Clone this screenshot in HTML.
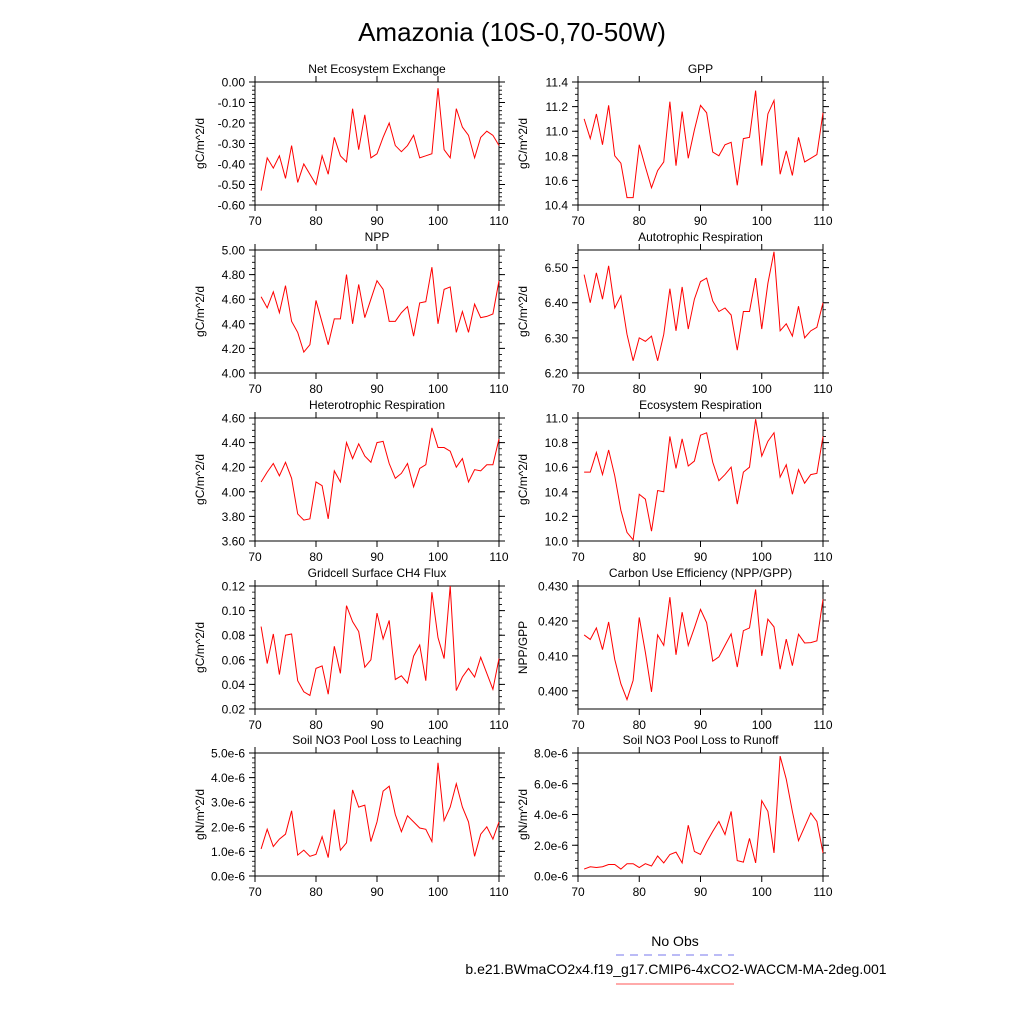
<!DOCTYPE html>
<html><head><meta charset="utf-8">
<style>
html,body{margin:0;padding:0;background:#fff;}
svg{display:block;font-family:"Liberation Sans",Arial,sans-serif;}
</style></head>
<body>
<svg id="chart" width="1024" height="1024" viewBox="0 0 1024 1024" xmlns="http://www.w3.org/2000/svg">
<rect width="1024" height="1024" fill="#fff"/>
<text x="512" y="41" text-anchor="middle" font-size="26" fill="#000">Amazonia (10S-0,70-50W)</text>
<g>
<text x="675" y="946" text-anchor="middle" font-size="14">No Obs</text>
<line x1="616" y1="955" x2="734" y2="955" stroke="#7777ee" stroke-width="1" stroke-dasharray="8,6"/>
<text x="676" y="974" text-anchor="middle" font-size="14">b.e21.BWmaCO2x4.f19_g17.CMIP6-4xCO2-WACCM-MA-2deg.001</text>
<line x1="616" y1="984" x2="734" y2="984" stroke="#ff5555" stroke-width="1"/>
</g>
<g id="panels"></g>
</svg>
<script>
const years = [];
for (let y = 71; y <= 110; y++) years.push(y);
const xTicks = [70, 80, 90, 100, 110];

const neeValues = [-0.53,-0.37,-0.42,-0.36,-0.47,-0.31,-0.49,-0.40,-0.45,-0.50,-0.36,-0.45,-0.27,-0.36,-0.39,-0.13,-0.33,-0.16,-0.37,-0.35,-0.27,-0.20,-0.31,-0.34,-0.31,-0.26,-0.37,-0.36,-0.35,-0.03,-0.33,-0.37,-0.13,-0.22,-0.26,-0.37,-0.27,-0.24,-0.26,-0.31];
const gppValues = [11.10,10.94,11.14,10.89,11.21,10.80,10.74,10.46,10.46,10.89,10.71,10.54,10.68,10.75,11.24,10.72,11.16,10.78,11.01,11.21,11.15,10.83,10.80,10.89,10.91,10.56,10.94,10.95,11.33,10.72,11.14,11.25,10.65,10.84,10.64,10.95,10.75,10.78,10.81,11.15];
const nppValues = [4.62,4.53,4.66,4.49,4.71,4.42,4.33,4.17,4.23,4.59,4.41,4.23,4.44,4.44,4.80,4.40,4.72,4.45,4.60,4.75,4.68,4.42,4.42,4.49,4.54,4.30,4.57,4.58,4.86,4.40,4.68,4.70,4.33,4.50,4.33,4.56,4.45,4.46,4.48,4.75];
const arValues = [6.48,6.40,6.485,6.41,6.505,6.385,6.42,6.31,6.235,6.30,6.29,6.305,6.235,6.31,6.44,6.32,6.445,6.325,6.41,6.46,6.47,6.405,6.375,6.385,6.365,6.265,6.375,6.375,6.47,6.325,6.455,6.545,6.32,6.34,6.305,6.39,6.30,6.32,6.33,6.40];
const hrValues = [4.08,4.16,4.23,4.13,4.24,4.11,3.82,3.77,3.78,4.08,4.05,3.78,4.17,4.08,4.40,4.27,4.39,4.29,4.24,4.40,4.41,4.23,4.11,4.15,4.23,4.04,4.19,4.22,4.52,4.36,4.36,4.33,4.20,4.27,4.08,4.18,4.17,4.22,4.22,4.43];
const erValues = [10.56,10.56,10.72,10.54,10.74,10.53,10.25,10.07,10.01,10.38,10.34,10.08,10.41,10.40,10.85,10.59,10.83,10.61,10.65,10.86,10.88,10.64,10.49,10.54,10.60,10.30,10.56,10.60,10.99,10.69,10.81,10.88,10.52,10.62,10.38,10.58,10.47,10.54,10.55,10.85];
const ch4Values = [0.087,0.057,0.081,0.048,0.080,0.081,0.043,0.034,0.031,0.053,0.055,0.032,0.071,0.049,0.104,0.091,0.083,0.054,0.060,0.098,0.077,0.092,0.044,0.047,0.041,0.063,0.072,0.043,0.115,0.078,0.061,0.120,0.035,0.046,0.053,0.046,0.062,0.049,0.036,0.061];
const cueValues = [0.416,0.4147,0.418,0.4118,0.4197,0.409,0.402,0.3975,0.403,0.421,0.411,0.3997,0.416,0.413,0.4268,0.4103,0.4225,0.413,0.418,0.4233,0.4195,0.4085,0.4097,0.413,0.4163,0.4068,0.4172,0.418,0.429,0.410,0.4205,0.4183,0.4062,0.4148,0.4072,0.4162,0.4137,0.4138,0.4143,0.4262];
const leachValues = [1.1e-6,1.9e-6,1.2e-6,1.5e-6,1.7e-6,2.65e-6,0.85e-6,1.05e-6,0.8e-6,0.88e-6,1.6e-6,0.75e-6,2.7e-6,1.05e-6,1.35e-6,3.5e-6,2.8e-6,2.88e-6,1.4e-6,2.2e-6,3.45e-6,3.65e-6,2.5e-6,1.8e-6,2.45e-6,2.2e-6,1.95e-6,1.9e-6,1.4e-6,4.6e-6,2.25e-6,2.8e-6,3.75e-6,2.8e-6,2.2e-6,0.8e-6,1.7e-6,2.0e-6,1.5e-6,2.2e-6];
const runoffValues = [0.45e-6,0.6e-6,0.55e-6,0.6e-6,0.75e-6,0.75e-6,0.45e-6,0.8e-6,0.8e-6,0.55e-6,0.8e-6,0.65e-6,1.3e-6,0.85e-6,1.4e-6,1.55e-6,0.85e-6,3.3e-6,1.6e-6,1.4e-6,2.2e-6,2.9e-6,3.55e-6,2.7e-6,4.2e-6,1.0e-6,0.9e-6,2.45e-6,0.85e-6,4.9e-6,4.2e-6,1.5e-6,7.8e-6,6.3e-6,4.2e-6,2.3e-6,3.2e-6,4.1e-6,3.55e-6,1.5e-6];

const neeTicks = [0,-0.1,-0.2,-0.3,-0.4,-0.5,-0.6];
const neeTickLabels = ["0.00","-0.10","-0.20","-0.30","-0.40","-0.50","-0.60"];
const gppTicks = [10.4,10.6,10.8,11.0,11.2,11.4];
const gppTickLabels = ["10.4","10.6","10.8","11.0","11.2","11.4"];
const nppTicks = [4.0,4.2,4.4,4.6,4.8,5.0];
const nppTickLabels = ["4.00","4.20","4.40","4.60","4.80","5.00"];
const arTicks = [6.2,6.3,6.4,6.5];
const arTickLabels = ["6.20","6.30","6.40","6.50"];
const hrTicks = [3.6,3.8,4.0,4.2,4.4,4.6];
const hrTickLabels = ["3.60","3.80","4.00","4.20","4.40","4.60"];
const erTicks = [10.0,10.2,10.4,10.6,10.8,11.0];
const erTickLabels = ["10.0","10.2","10.4","10.6","10.8","11.0"];
const ch4Ticks = [0.02,0.04,0.06,0.08,0.10,0.12];
const ch4TickLabels = ["0.02","0.04","0.06","0.08","0.10","0.12"];
const cueTicks = [0.40,0.41,0.42,0.43];
const cueTickLabels = ["0.400","0.410","0.420","0.430"];
const leachTicks = [0,1e-6,2e-6,3e-6,4e-6,5e-6];
const leachTickLabels = ["0.0e-6","1.0e-6","2.0e-6","3.0e-6","4.0e-6","5.0e-6"];
const runoffTicks = [0,2e-6,4e-6,6e-6,8e-6];
const runoffTickLabels = ["0.0e-6","2.0e-6","4.0e-6","6.0e-6","8.0e-6"];

const NS = "http://www.w3.org/2000/svg";
function mk(tag, attrs, parent){
  const e = document.createElementNS(NS, tag);
  for (const k in attrs) e.setAttribute(k, attrs[k]);
  if (parent) parent.appendChild(e);
  return e;
}

const panels = [
  {id:"nee", title:"Net Ecosystem Exchange", ylab:"gC/m^2/d", v:neeValues, t:neeTicks, tl:neeTickLabels, min:-0.6, max:0, minor:0.02, col:0, row:0},
  {id:"gpp", title:"GPP", ylab:"gC/m^2/d", v:gppValues, t:gppTicks, tl:gppTickLabels, min:10.4, max:11.4, minor:0.05, col:1, row:0},
  {id:"npp", title:"NPP", ylab:"gC/m^2/d", v:nppValues, t:nppTicks, tl:nppTickLabels, min:4.0, max:5.0, minor:0.05, col:0, row:1},
  {id:"ar", title:"Autotrophic Respiration", ylab:"gC/m^2/d", v:arValues, t:arTicks, tl:arTickLabels, min:6.2, max:6.55, minor:0.02, col:1, row:1},
  {id:"hr", title:"Heterotrophic Respiration", ylab:"gC/m^2/d", v:hrValues, t:hrTicks, tl:hrTickLabels, min:3.6, max:4.6, minor:0.05, col:0, row:2},
  {id:"er", title:"Ecosystem Respiration", ylab:"gC/m^2/d", v:erValues, t:erTicks, tl:erTickLabels, min:10.0, max:11.0, minor:0.05, col:1, row:2},
  {id:"ch4", title:"Gridcell Surface CH4 Flux", ylab:"gC/m^2/d", v:ch4Values, t:ch4Ticks, tl:ch4TickLabels, min:0.02, max:0.12, minor:0.005, col:0, row:3},
  {id:"cue", title:"Carbon Use Efficiency (NPP/GPP)", ylab:"NPP/GPP", v:cueValues, t:cueTicks, tl:cueTickLabels, min:0.3948, max:0.430, minor:0.002, col:1, row:3},
  {id:"leach", title:"Soil NO3 Pool Loss to Leaching", ylab:"gN/m^2/d", v:leachValues, t:leachTicks, tl:leachTickLabels, min:0, max:5e-6, minor:0.2e-6, col:0, row:4},
  {id:"runoff", title:"Soil NO3 Pool Loss to Runoff", ylab:"gN/m^2/d", v:runoffValues, t:runoffTicks, tl:runoffTickLabels, min:0, max:8e-6, minor:0.5e-6, col:1, row:4}
];

const root = document.getElementById("panels");
const colX = [[255,499],[578,823]];
const rowTop = [82, 250, 418, 586, 753];
const H = 123;

panels.forEach(p => {
  const x0 = colX[p.col][0], x1 = colX[p.col][1];
  const y0 = rowTop[p.row], y1 = y0 + H;
  const xs = v => x0 + (v - 70) / 40 * (x1 - x0);
  const ys = v => y1 - (v - p.min) / (p.max - p.min) * (y1 - y0);
  const g = mk("g", {}, root);
  
  

  const ti = mk("text", {x:(x0+x1)/2, y:y0-9, "text-anchor":"middle", "font-size":12}, g);
  ti.textContent = p.title;
  
  

  const yl = mk("text", {x:0, y:0, "text-anchor":"middle", "font-size":12, transform:`translate(${x0-51},${(y0+y1)/2}) rotate(-90)`}, g);
  yl.textContent = p.ylab;
  
  

  let d = "";
  const start = Math.ceil(p.min / p.minor - 1e-6);
  for (let k = start; k * p.minor <= p.max + p.minor * 1e-4; k++) {
    const yy = ys(k * p.minor);
    d += `M${x0} ${yy}h-3M${x1} ${yy}h3`;
  }
  const mt = mk("path", {d:d, stroke:"#000", "stroke-width":0.8, fill:"none"}, g);
  
  

  let dm = "";
  p.t.forEach((tv, i) => {
    const yy = ys(tv);
    dm += `M${x0} ${yy}h-6M${x1} ${yy}h6`;
    const lb = mk("text", {x:x0-10, y:yy+4.5, "text-anchor":"end", "font-size":12}, g);
    lb.textContent = p.tl[i];
    
    
  });
  xTicks.forEach(tv => {
    const xx = xs(tv);
    dm += `M${xx} ${y1}v6M${xx} ${y0}v-6`;
    const lb = mk("text", {x:xx, y:y1+20, "text-anchor":"middle", "font-size":12}, g);
    lb.textContent = String(tv);
    
    
  });
  const mj = mk("path", {d:dm, stroke:"#000", "stroke-width":1, fill:"none"}, g);
  
  

  const fr = mk("rect", {x:x0, y:y0, width:x1-x0, height:H, fill:"none", stroke:"#000", "stroke-width":1}, g);
  
  

  const pts = p.v.map((v, i) => xs(years[i]).toFixed(2) + "," + ys(v).toFixed(2)).join(" ");
  const ln = mk("polyline", {points:pts, fill:"none", stroke:"#ff0000", "stroke-width":1}, g);
  
  
});
</script>
</body></html>
